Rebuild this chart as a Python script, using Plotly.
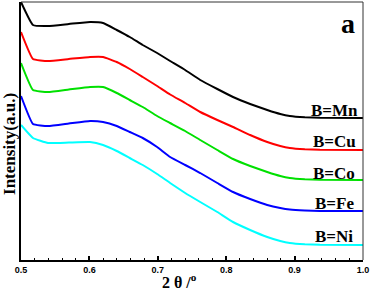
import plotly.graph_objects as go

# 2theta values (degrees)
two_theta = [0.5, 0.5175, 0.5395, 0.570, 0.601, 0.620, 0.640, 0.659, 0.678, 0.699, 0.718,
             0.740, 0.762, 0.787, 0.810, 0.835, 0.860, 0.879, 0.893, 0.915, 0.937, 1.0]

# Intensity (a.u.), stacked curves
mn = [258, 235, 234, 236, 238, 237, 230, 223, 215, 207, 199, 190, 180, 171, 163, 156, 150, 146, 144, 142.7, 142.2, 142]
cu = [228, 201, 199, 201, 203, 203, 198, 191, 183, 174, 165.5, 157, 148, 140, 133, 125, 118, 114, 112, 110.7, 110.2, 110]
co = [197, 170, 168, 170.5, 173, 173, 167, 160, 153, 144, 137, 129, 120, 110, 101, 94, 88, 84, 82, 80.7, 80.2, 80]
fe = [164, 136, 134, 136.5, 139, 138, 134, 128, 122, 113, 103, 95, 87, 77, 68, 61, 55, 52, 50.5, 49.5, 49, 49]
ni = [135, 122, 117, 117.5, 118, 115, 109, 102, 95, 86, 77, 67, 58, 48, 38, 30, 23, 19, 17, 15.7, 15.2, 15]

series_names = ["B=Mn", "B=Cu", "B=Co", "B=Fe", "B=Ni"]
series_values = [mn, cu, co, fe, ni]
series_colors = ["#000000", "#ff0000", "#00e000", "#0000ff", "#00ffff"]
label_y = [150, 119, 87, 57, 24]

x_ticks = [0.5, 0.6, 0.7, 0.8, 0.9, 1.0]
x_ticktext = ["0.5", "0.6", "0.7", "0.8", "0.9", "1.0"]

fig = go.Figure()
for name, vals, col in zip(series_names, series_values, series_colors):
    fig.add_trace(go.Scatter(x=two_theta, y=vals, mode="lines", name=name,
                             line=dict(color=col, width=2, shape="spline", smoothing=0.35)))

serif = "Liberation Serif"
annotations = []
for name, ly in zip(series_names, label_y):
    annotations.append(dict(x=0.958, y=ly, xref="x", yref="y", text=name, showarrow=False,
                            xanchor="center", yanchor="middle",
                            font=dict(family=serif, size=17, color="black", weight="bold")))
annotations.append(dict(x=0.978, y=237, xref="x", yref="y", text="a", showarrow=False,
                        xanchor="center", yanchor="middle",
                        font=dict(family=serif, size=28, color="black", weight="bold")))
annotations.append(dict(x=-0.032, y=0.45, xref="paper", yref="paper", text="Intensity(a.u.)",
                        textangle=-90, showarrow=False, xanchor="center", yanchor="middle",
                        font=dict(family=serif, size=17, color="black", weight="bold")))
annotations.append(dict(x=0.462, y=-0.08, xref="paper", yref="paper", text="2 θ /<sup>o</sup>",
                        showarrow=False, xanchor="center", yanchor="middle",
                        font=dict(family=serif, size=16, color="black", weight="bold")))

fig.update_layout(
    width=370, height=290,
    margin=dict(l=21, r=7, t=2, b=30),
    paper_bgcolor="white", plot_bgcolor="white",
    showlegend=False,
    annotations=annotations,
    shapes=[
        dict(type="line", xref="paper", yref="paper", x0=0, x1=1, y0=1, y1=1,
             line=dict(color="#333333", width=1)),
        dict(type="line", xref="paper", yref="paper", x0=1, x1=1, y0=0, y1=1,
             line=dict(color="#333333", width=1)),
    ],
    xaxis=dict(range=[0.5, 1.0], tickvals=x_ticks, ticktext=x_ticktext,
               ticks="inside", ticklen=4, tickwidth=1.5, tickcolor="black",
               minor=dict(dtick=0.02, ticks="inside", ticklen=2, tickwidth=1, tickcolor="black"),
               showline=True, linecolor="black", linewidth=2, showgrid=False, zeroline=False,
               tickfont=dict(family="Liberation Sans", size=9, color="black", weight="bold")),
    yaxis=dict(range=[0, 258], showticklabels=False, ticks="", showline=True,
               linecolor="black", linewidth=2, showgrid=False, zeroline=False),
)

fig.write_html("out.html", config={"displayModeBar": False},
               post_script="document.body.style.margin='0';document.body.style.overflow='hidden';")
